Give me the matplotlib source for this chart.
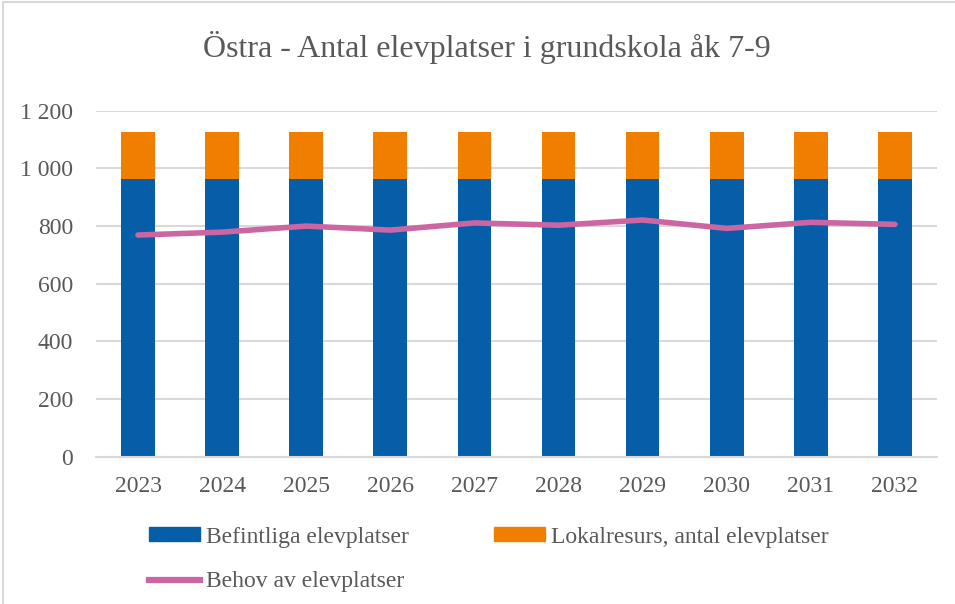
import matplotlib.pyplot as plt
from matplotlib.patches import Rectangle, Patch
from matplotlib.lines import Line2D

# Data
years = ['2023', '2024', '2025', '2026', '2027', '2028', '2029', '2030', '2031', '2032']
befintliga = [963, 963, 963, 963, 963, 963, 963, 963, 963, 963]
lokalresurs = [163, 163, 163, 163, 163, 163, 163, 163, 163, 163]
behov = [769, 779, 800, 786, 811, 803, 821, 792, 813, 806]
yticks = [0, 200, 400, 600, 800, 1000, 1200]
ytick_labels = ['0', '200', '400', '600', '800', '1 000', '1 200']

BLUE = '#075ea8'
ORANGE = '#f07f00'
PINK = '#cc66a3'
GRAY = '#595959'

plt.rcParams['font.family'] = ['Liberation Serif', 'DejaVu Serif']

fig = plt.figure(figsize=(9.55, 6.04), dpi=100)
ax = fig.add_axes([0.1005, 0.2437, 0.8806, 0.573])

x = range(len(years))
ax.bar(x, befintliga, width=0.4, color=BLUE, zorder=2)
ax.bar(x, lokalresurs, width=0.4, bottom=befintliga, color=ORANGE, zorder=2)
ax.plot(x, behov, color=PINK, linewidth=4, solid_capstyle='round', zorder=3)

ax.set_xlim(-0.5, len(years) - 0.5)
ax.set_ylim(0, 1200)
ax.set_yticks(yticks)
ax.set_yticklabels(ytick_labels)
ax.set_xticks(list(x))
ax.set_xticklabels(years)
ax.tick_params(axis='both', length=0, labelsize=17, colors=GRAY)
ax.tick_params(axis='y', pad=16.5)
ax.tick_params(axis='x', pad=13.5)
ax.grid(axis='y', color='#d9d9d9', linewidth=1.5, zorder=0)
for s in ['top', 'right', 'left']:
    ax.spines[s].set_visible(False)
ax.spines['bottom'].set_color('#d9d9d9')
ax.spines['bottom'].set_linewidth(1.5)

fig.text(0.51, 0.922, 'Östra - Antal elevplatser i grundskola åk 7-9',
         ha='center', va='center', fontsize=23, color=GRAY)

# chart border
fig.patches.append(Rectangle((0.003, -0.01), 1.2, 1.006, transform=fig.transFigure,
                             fill=False, edgecolor='#d9d9d9', linewidth=1.5))

# order so that rows read: Befintliga, Lokalresurs / Behov
handles = [Patch(color=BLUE), Line2D([0], [0], color=PINK, linewidth=4.5),
           Patch(color=ORANGE)]
labels = ['Befintliga elevplatser', 'Behov av elevplatser',
          'Lokalresurs, antal elevplatser']
fig.legend(handles, labels, loc='upper left', bbox_to_anchor=(0.156, 0.128),
           ncol=2, frameon=False, fontsize=17, labelcolor=GRAY,
           handlelength=2.16, handleheight=0.55, handletextpad=0.25,
           columnspacing=3.6, labelspacing=1.0, borderaxespad=0, borderpad=0)

fig.savefig('out.png', dpi=100)
